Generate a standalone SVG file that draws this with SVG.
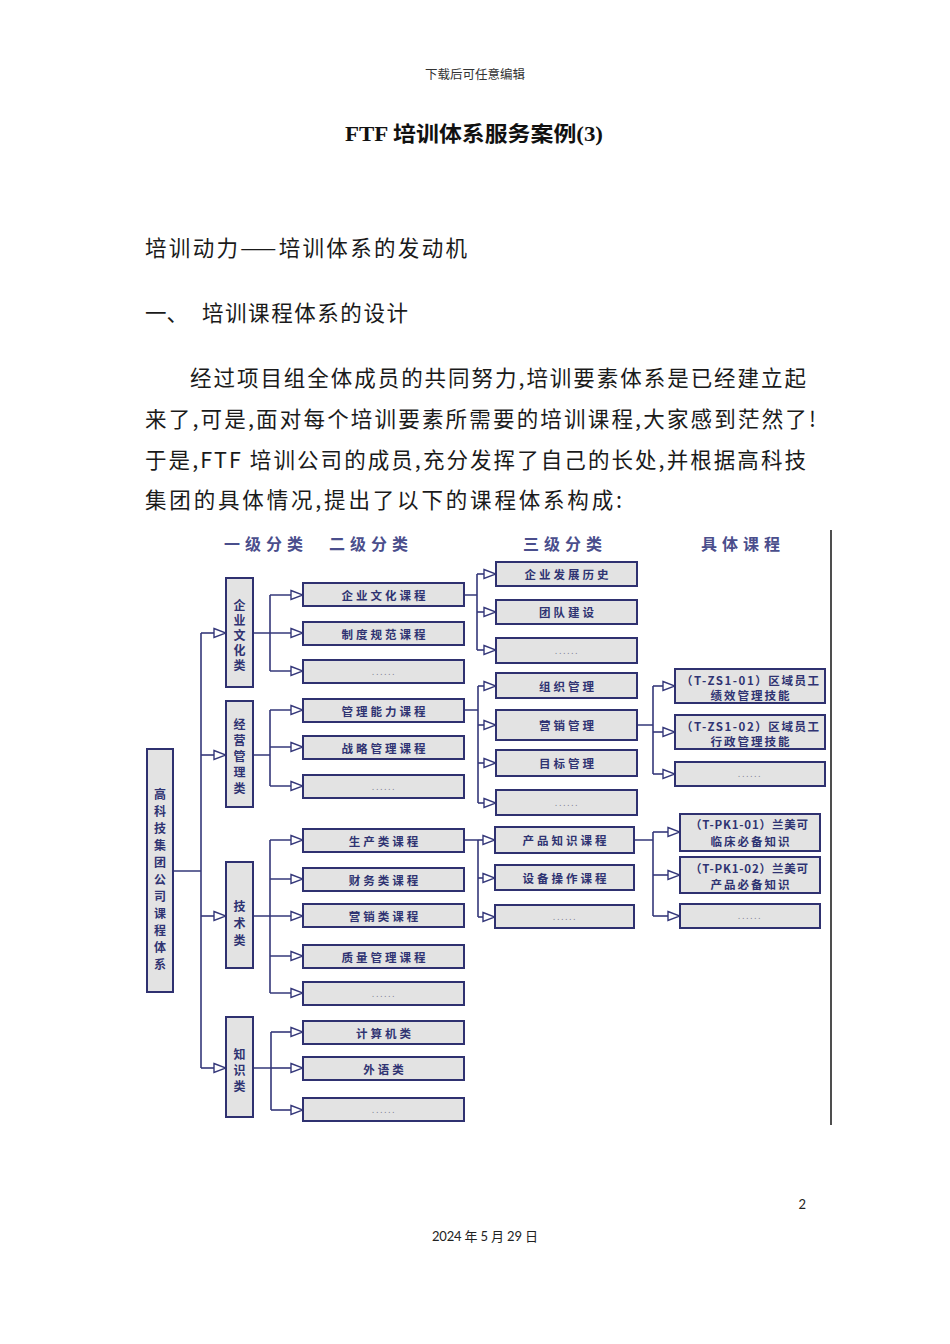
<svg xmlns="http://www.w3.org/2000/svg" width="950" height="1344" viewBox="0 0 950 1344">
<style>
.body{font-family:"Noto Sans CJK SC","Noto Sans CJK JP",sans-serif;fill:#1a1a1a;font-size:21.5px}
.box{fill:#e3e3e3;stroke:#2f3170;stroke-width:2}
.t{font-family:"Noto Sans CJK SC",sans-serif;font-weight:bold;fill:#2f3372;font-size:11.5px;letter-spacing:3px;text-anchor:middle;dominant-baseline:central}
.v{font-family:"Noto Sans CJK SC",sans-serif;font-weight:bold;fill:#2f3372;font-size:12px;text-anchor:middle;dominant-baseline:central}
.l4{font-family:"Noto Sans CJK SC",sans-serif;font-weight:bold;fill:#2f3372;font-size:11.5px;text-anchor:middle;dominant-baseline:central}
.dots{font-family:"DejaVu Sans",sans-serif;fill:#7a7a90;font-size:8px;letter-spacing:1.5px;text-anchor:middle;dominant-baseline:central}
.hd{font-family:"Noto Sans CJK SC",sans-serif;font-weight:bold;fill:#4a4e8c;font-size:16px;letter-spacing:5px;text-anchor:middle;dominant-baseline:central}
.c{fill:none;stroke:#35387a;stroke-width:1.6}
.a{fill:none;stroke:#35387a;stroke-width:1.6;marker-end:url(#ah)}
</style>
<defs>
<marker id="ah" markerUnits="userSpaceOnUse" markerWidth="14" markerHeight="12" viewBox="0 0 14 12" refX="13" refY="6" orient="auto"><path d="M1,1.5 L13,6 L1,10.5 Z" fill="#fff" stroke="#35387a" stroke-width="1.4"/></marker>
</defs>
<rect width="950" height="1344" fill="#fff"/>

<g id="page-text">
<text x="475" y="79" text-anchor="middle" font-family="Noto Sans CJK SC,sans-serif" font-size="12.5" fill="#333" textLength="100">下载后可任意编辑</text>
<text x="345" y="141" font-family="Liberation Serif,Noto Sans CJK SC,serif" font-weight="bold" font-size="21" fill="#111" textLength="258" lengthAdjust="spacingAndGlyphs">FTF 培训体系服务案例(3)</text>
<text class="body" x="145" y="256" textLength="322">培训动力——培训体系的发动机</text>
<text class="body" x="145" y="321">一、</text>
<text class="body" x="202" y="321" textLength="206">培训课程体系的设计</text>
<text class="body" x="190" y="386" textLength="616">经过项目组全体成员的共同努力,培训要素体系是已经建立起</text>
<text class="body" x="145" y="427" textLength="671">来了,可是,面对每个培训要素所需要的培训课程,大家感到茫然了!</text>
<text class="body" x="145" y="468" textLength="661">于是,FTF 培训公司的成员,充分发挥了自己的长处,并根据高科技</text>
<text class="body" x="145" y="508" textLength="477">集团的具体情况,提出了以下的课程体系构成:</text>
<text x="806" y="1209" text-anchor="end" font-family="Lato,sans-serif" font-size="13" fill="#222">2</text>
<text x="485" y="1241" text-anchor="middle" font-family="Lato,Noto Sans CJK SC,sans-serif" font-size="13" fill="#222" textLength="106">2024 年 5 月 29 日</text>
</g>

<g id="headers">
<text class="hd" x="266" y="543">一级分类</text>
<text class="hd" x="371" y="543">二级分类</text>
<text class="hd" x="565" y="543">三级分类</text>
<text class="hd" x="743" y="543">具体课程</text>
<line x1="831" y1="530" x2="831" y2="1125" stroke="#222" stroke-width="1.6"/>
</g>

<g id="connectors">
<path class="c" d="M173,871 H201 M201,633 V1068"/>
<path class="a" d="M201,633 H226"/>
<path class="a" d="M201,755 H226"/>
<path class="a" d="M201,916 H226"/>
<path class="a" d="M201,1068 H226"/>

<path class="c" d="M253,633 H270 M270,595 V671"/>
<path class="a" d="M270,595 H303"/><path class="a" d="M270,633 H303"/><path class="a" d="M270,671 H303"/>
<path class="c" d="M253,755 H270 M270,710 V786"/>
<path class="a" d="M270,710 H303"/><path class="a" d="M270,747 H303"/><path class="a" d="M270,786 H303"/>
<path class="c" d="M253,916 H270 M270,840 V993"/>
<path class="a" d="M270,840 H303"/><path class="a" d="M270,879 H303"/><path class="a" d="M270,916 H303"/><path class="a" d="M270,956 H303"/><path class="a" d="M270,993 H303"/>
<path class="c" d="M253,1068 H271 M271,1032 V1110"/>
<path class="a" d="M271,1032 H303"/><path class="a" d="M271,1068 H303"/><path class="a" d="M271,1110 H303"/>

<path class="c" d="M464,595 H477 M477,574 V650"/>
<path class="a" d="M477,574 H496"/><path class="a" d="M477,612 H496"/><path class="a" d="M477,650 H496"/>
<path class="c" d="M464,710 H478 M478,686 V803"/>
<path class="a" d="M478,686 H496"/><path class="a" d="M478,725 H496"/><path class="a" d="M478,763 H496"/><path class="a" d="M478,803 H496"/>
<path class="c" d="M464,840 H478 M478,840 V917"/>
<path class="a" d="M478,840 H495"/><path class="a" d="M478,878 H495"/><path class="a" d="M478,917 H495"/>

<path class="c" d="M637,725 H653 M653,686 V774"/>
<path class="a" d="M653,686 H675"/><path class="a" d="M653,732 H675"/><path class="a" d="M653,774 H675"/>
<path class="c" d="M634,840 H653 M653,832 V916"/>
<path class="a" d="M653,832 H680"/><path class="a" d="M653,875 H680"/><path class="a" d="M653,916 H680"/>
</g>

<g id="root"><rect class="box" x="147" y="749" width="26" height="243"/>
<text class="v"><tspan x="160" y="793">高</tspan><tspan x="160" y="810">科</tspan><tspan x="160" y="827">技</tspan><tspan x="160" y="844">集</tspan><tspan x="160" y="861">团</tspan><tspan x="160" y="878">公</tspan><tspan x="160" y="895">司</tspan><tspan x="160" y="912">课</tspan><tspan x="160" y="929">程</tspan><tspan x="160" y="946">体</tspan><tspan x="160" y="963">系</tspan></text></g>

<g id="l1-culture"><rect class="box" x="226" y="578" width="27" height="109"/>
<text class="v"><tspan x="239.5" y="604">企</tspan><tspan x="239.5" y="619">业</tspan><tspan x="239.5" y="634">文</tspan><tspan x="239.5" y="649">化</tspan><tspan x="239.5" y="664">类</tspan></text></g>
<g id="l1-mgmt"><rect class="box" x="226" y="701" width="27" height="106"/>
<text class="v"><tspan x="239.5" y="723">经</tspan><tspan x="239.5" y="739">营</tspan><tspan x="239.5" y="755">管</tspan><tspan x="239.5" y="771">理</tspan><tspan x="239.5" y="787">类</tspan></text></g>
<g id="l1-tech"><rect class="box" x="226" y="862" width="27" height="106"/>
<text class="v"><tspan x="239.5" y="905">技</tspan><tspan x="239.5" y="922">术</tspan><tspan x="239.5" y="939">类</tspan></text></g>
<g id="l1-know"><rect class="box" x="226" y="1017" width="27" height="100"/>
<text class="v"><tspan x="239.5" y="1053">知</tspan><tspan x="239.5" y="1069">识</tspan><tspan x="239.5" y="1085">类</tspan></text></g>

<g id="l2-1"><rect class="box" x="303" y="583" width="161" height="23"/><text class="t" x="385" y="594.5">企业文化课程</text></g>
<g id="l2-2"><rect class="box" x="303" y="622" width="161" height="23"/><text class="t" x="385" y="633.5">制度规范课程</text></g>
<g id="l2-3"><rect class="box" x="303" y="660" width="161" height="23"/><text class="dots" x="384" y="672">......</text></g>
<g id="l2-4"><rect class="box" x="303" y="699" width="161" height="23"/><text class="t" x="385" y="710.5">管理能力课程</text></g>
<g id="l2-5"><rect class="box" x="303" y="736" width="161" height="23"/><text class="t" x="385" y="747.5">战略管理课程</text></g>
<g id="l2-6"><rect class="box" x="303" y="775" width="161" height="23"/><text class="dots" x="384" y="787">......</text></g>
<g id="l2-7"><rect class="box" x="303" y="829" width="161" height="23"/><text class="t" x="385" y="840.5">生产类课程</text></g>
<g id="l2-8"><rect class="box" x="303" y="868" width="161" height="23"/><text class="t" x="385" y="879.5">财务类课程</text></g>
<g id="l2-9"><rect class="box" x="303" y="904" width="161" height="23"/><text class="t" x="385" y="915.5">营销类课程</text></g>
<g id="l2-10"><rect class="box" x="303" y="945" width="161" height="23"/><text class="t" x="385" y="956.5">质量管理课程</text></g>
<g id="l2-11"><rect class="box" x="303" y="982" width="161" height="23"/><text class="dots" x="384" y="994">......</text></g>
<g id="l2-12"><rect class="box" x="303" y="1021" width="161" height="23"/><text class="t" x="385" y="1032.5">计算机类</text></g>
<g id="l2-13"><rect class="box" x="303" y="1057" width="161" height="23"/><text class="t" x="385" y="1068.5">外语类</text></g>
<g id="l2-14"><rect class="box" x="303" y="1098" width="161" height="23"/><text class="dots" x="384" y="1110">......</text></g>

<g id="l3-1"><rect class="box" x="496" y="562" width="141" height="24"/><text class="t" x="568" y="574">企业发展历史</text></g>
<g id="l3-2"><rect class="box" x="496" y="600" width="141" height="24"/><text class="t" x="568" y="612">团队建设</text></g>
<g id="l3-3"><rect class="box" x="496" y="638" width="141" height="25"/><text class="dots" x="567" y="651">......</text></g>
<g id="l3-4"><rect class="box" x="496" y="673" width="141" height="25"/><text class="t" x="568" y="685.5">组织管理</text></g>
<g id="l3-5"><rect class="box" x="496" y="710" width="141" height="30"/><text class="t" x="568" y="725">营销管理</text></g>
<g id="l3-6"><rect class="box" x="496" y="750" width="141" height="26"/><text class="t" x="568" y="763">目标管理</text></g>
<g id="l3-7"><rect class="box" x="496" y="790" width="141" height="25"/><text class="dots" x="567" y="803">......</text></g>
<g id="l3-8"><rect class="box" x="495" y="827" width="139" height="26"/><text class="t" x="566" y="840">产品知识课程</text></g>
<g id="l3-9"><rect class="box" x="495" y="865" width="139" height="25"/><text class="t" x="566" y="877.5">设备操作课程</text></g>
<g id="l3-10"><rect class="box" x="495" y="905" width="139" height="23"/><text class="dots" x="565" y="917">......</text></g>

<g id="l4-1"><rect class="box" x="675" y="669" width="150" height="34"/>
<text class="l4" x="750" y="679.5" textLength="138">（T-ZS1-01）区域员工</text><text class="l4" x="751" y="694.5" letter-spacing="2">绩效管理技能</text></g>
<g id="l4-2"><rect class="box" x="675" y="715" width="150" height="34"/>
<text class="l4" x="750" y="725.5" textLength="138">（T-ZS1-02）区域员工</text><text class="l4" x="751" y="740.5" letter-spacing="2">行政管理技能</text></g>
<g id="l4-3"><rect class="box" x="675" y="762" width="150" height="24"/><text class="dots" x="750" y="774">......</text></g>
<g id="l4-4"><rect class="box" x="680" y="814" width="140" height="37"/>
<text class="l4" x="749" y="824" textLength="118">（T-PK1-01）兰美可</text><text class="l4" x="751" y="841" letter-spacing="2">临床必备知识</text></g>
<g id="l4-5"><rect class="box" x="680" y="857" width="140" height="36"/>
<text class="l4" x="749" y="867.5" textLength="118">（T-PK1-02）兰美可</text><text class="l4" x="751" y="883.5" letter-spacing="2">产品必备知识</text></g>
<g id="l4-6"><rect class="box" x="680" y="904" width="140" height="24"/><text class="dots" x="750" y="916">......</text></g>
</svg>
